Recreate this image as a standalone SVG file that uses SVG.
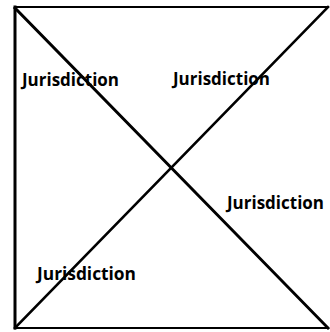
<svg xmlns="http://www.w3.org/2000/svg" width="330" height="332" viewBox="0 0 330 332">
<style>
.l{stroke:#000;stroke-linecap:square;fill:none}
.t{font-family:"Open Sans","Noto Sans",sans-serif;font-weight:bold;font-size:17px;fill:#000}
</style>
<rect width="330" height="332" fill="#fff"/>
<g id="connectors">
<line class="l" x1="15" y1="7" x2="328" y2="7" stroke-width="2"/>
<line class="l" x1="15" y1="328" x2="328" y2="328" stroke-width="2"/>
<line class="l" x1="15" y1="7" x2="15" y2="328" stroke-width="3"/>
<line class="l" x1="15" y1="8" x2="328" y2="328" stroke-width="3"/>
<line class="l" x1="15" y1="328" x2="328" y2="7" stroke-width="2.6"/>
</g>
<g id="n1"><text class="t" x="22" y="86" textLength="97" lengthAdjust="spacingAndGlyphs">Jurisdiction</text></g>
<g id="n2"><text class="t" x="173" y="85" textLength="97" lengthAdjust="spacingAndGlyphs">Jurisdiction</text></g>
<g id="n3"><text class="t" x="227" y="209" textLength="97" lengthAdjust="spacingAndGlyphs">Jurisdiction</text></g>
<g id="n4"><text class="t" x="37" y="280" textLength="99" lengthAdjust="spacingAndGlyphs">Jurisdiction</text></g>
</svg>
